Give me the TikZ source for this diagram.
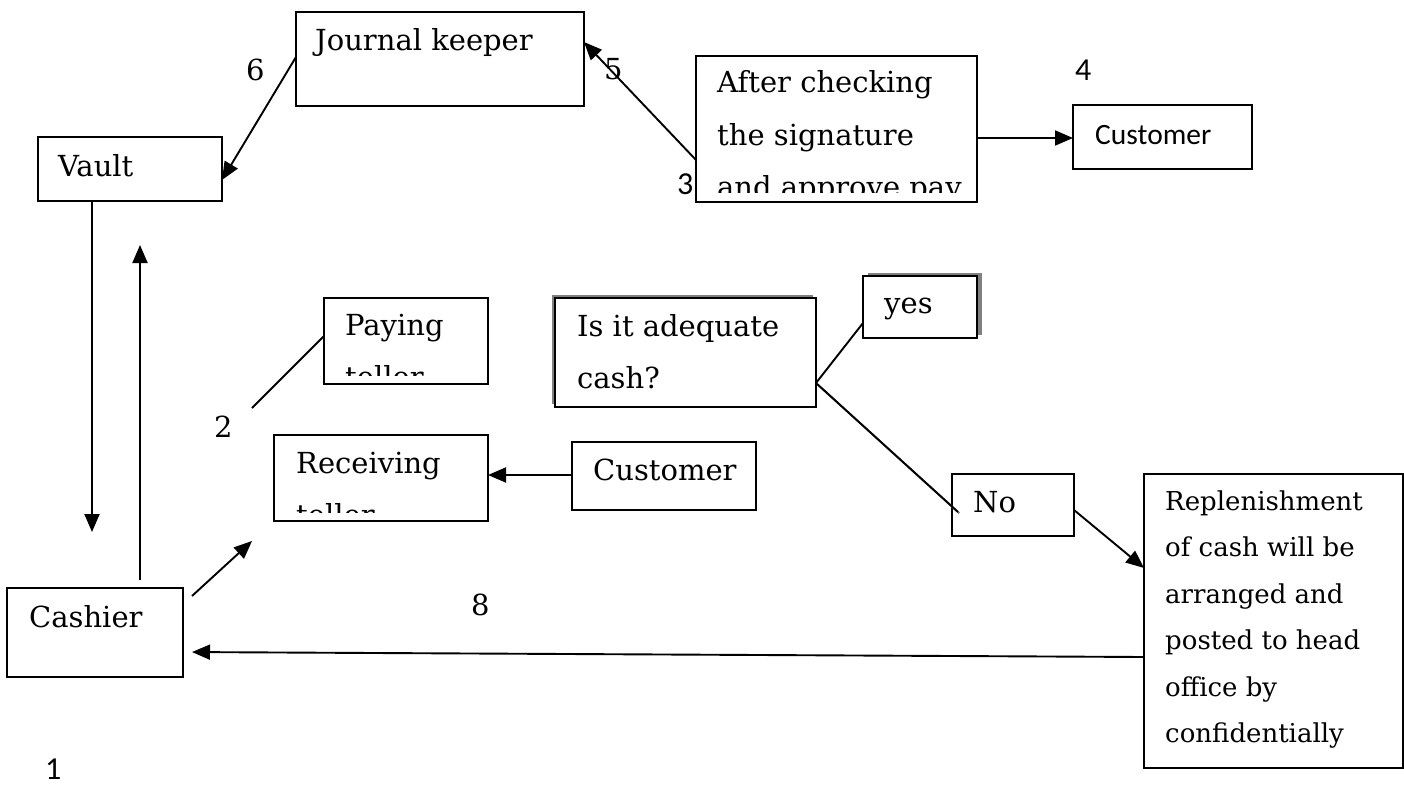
\documentclass[tikz,border=0pt]{standalone}
\usepackage{fontspec}
\setmainfont{DejaVu Serif}
\newfontfamily\sansf{Carlito}
\usetikzlibrary{arrows.meta,calc}
\begin{document}
\begin{tikzpicture}[x=1pt,y=-1pt,
  box/.style={draw,line width=2pt,anchor=north west,inner sep=0pt,outer sep=0pt,fill=white},
  txt/.style={anchor=base west,inner sep=0pt,font=\fontsize{29}{34}\selectfont},
  stxt/.style={anchor=base west,inner sep=0pt,font=\fontsize{26}{30}\selectfont},
  sans/.style={anchor=base west,inner sep=0pt,font=\sansf\fontsize{29.5}{34}\selectfont},
  snum/.style={anchor=base west,inner sep=0pt,font=\sansf\fontsize{32}{38}\selectfont},
  conn/.style={line width=1.9pt},
  arr/.style={conn,-{Triangle[length=18pt,width=15pt]}},
  shadowc/.style={fill=black!50},
]
\useasboundingbox (0,0) rectangle (1404,789);

% boxes
\node[box,minimum width=288pt,minimum height=94pt] (jk) at (296,12) {};
\node[box,minimum width=184pt,minimum height=64pt] (vault) at (38,137) {};
\node[box,minimum width=281pt,minimum height=146pt] (check) at (696,56) {};
\node[box,minimum width=179pt,minimum height=64pt] (cust1) at (1073,105) {};
\node[box,minimum width=164pt,minimum height=86pt] (paying) at (324,298) {};
\node[box,minimum width=214pt,minimum height=86pt] (recv) at (274,435) {};
\fill[shadowc] (551.5,294.5) rectangle (812.5,403.5);
\node[box,minimum width=261pt,minimum height=109pt] (adeq) at (555,298) {};
\fill[shadowc] (868,272.5) rectangle (982,334.5);
\node[box,minimum width=114pt,minimum height=62pt] (yes) at (863,276) {};
\node[box,minimum width=184pt,minimum height=68pt] (cust2) at (572,442) {};
\node[box,minimum width=122pt,minimum height=62pt] (no) at (952,474) {};
\node[box,minimum width=259pt,minimum height=294pt] (repl) at (1144,474) {};
\node[box,minimum width=176pt,minimum height=89pt] (cashier) at (7,588) {};

% texts
\node[txt] (tjk) at (315,51) {Journal keeper};
\node[txt] (tv) at (58,176) {Vault};
\node[txt] (tc1) at (717,93) {After checking};
\node[txt] (tc2) at (717,145) {the signature};
\begin{scope}
  \clip (696,56) rectangle (977,192);
  \node[txt] (tc3) at (717,197) {and approve pay};
\end{scope}
\node[sans] (tcu1) at (1095,144) {Customer};
\node[txt] (tp1) at (345,335) {Paying};
\begin{scope}
  \clip (324,298) rectangle (488,375);
  \node[txt] (tp2) at (345,387) {teller};
\end{scope}
\node[txt] (tr1) at (296,473) {Receiving};
\begin{scope}
  \clip (274,435) rectangle (488,512);
  \node[txt] (tr2) at (296,525) {teller};
\end{scope}
\node[txt] (ta1) at (577,336) {Is it adequate};
\node[txt] (ta2) at (577,388) {cash?};
\node[txt] (ty) at (884,313) {yes};
\node[txt] (tcu2) at (593,480) {Customer};
\node[txt] (tn) at (973,512) {No};
\node[stxt] (tr1l) at (1165,510) {Replenishment};
\node[stxt] (tr2l) at (1165,556.5) {of cash will be};
\node[stxt] (tr3l) at (1165,603) {arranged and};
\node[stxt] (tr4l) at (1165,649.5) {posted to head};
\node[stxt] (tr5l) at (1165,696) {office by};
\node[stxt] (tr6l) at (1165,742.5) {confidentially};
\node[txt] (tca) at (29,627) {Cashier};

% numbers
\node[txt] (n6) at (246,81) {6};
\node[txt] (n5) at (604,80) {5};
\node[snum] (n3) at (677,194) {3};
\node[snum] (n4) at (1075,81) {4};
\node[txt] (n2) at (214,437) {2};
\node[txt] (n8) at (471,615) {8};
\node[snum] (n1) at (45,779) {1};

% connectors
\coordinate (c2) at (252,408);
\draw[arr] ([yshift=-31pt]check.west) -- ([yshift=17pt]jk.east);
\draw[arr] ([yshift=2pt]jk.west) -- ([yshift=-11pt]vault.east);
\draw[arr] ([yshift=-9pt]check.east) -- ([yshift=-1pt]cust1.west);
\draw[arr,shorten >=56pt] ([xshift=-38pt]vault.south) -- ([xshift=-3pt]cashier.north);
\draw[arr,shorten <=8pt,shorten >=44pt] ([xshift=45pt]cashier.north) -- ([xshift=10pt]vault.south);
\draw[conn] (c2) -- ([yshift=5pt]paying.west);
\draw[arr] ([xshift=9pt,yshift=36.5pt]cashier.east) -- ([xshift=-22pt,yshift=-20pt]recv.south west);
\draw[arr] ([yshift=1pt]cust2.west) -- ([yshift=3pt]recv.east);
\draw[conn] ([yshift=-30.5pt]adeq.east) -- ([yshift=-16pt]yes.west);
\draw[conn,black!50,transform canvas={xshift=1.3pt,yshift=-1.3pt}] ([yshift=-30.5pt]adeq.east) -- ([xshift=6pt,yshift=-7pt]no.west);
\draw[conn] ([yshift=-30.5pt]adeq.east) -- ([xshift=6pt,yshift=-7pt]no.west);
\draw[arr] ([yshift=-5pt]no.east) -- ([yshift=53pt]repl.west);
\draw[arr,shorten >=9pt] ([yshift=-36pt]repl.west) -- ([yshift=-19.5pt]cashier.east);
\end{tikzpicture}
\end{document}
